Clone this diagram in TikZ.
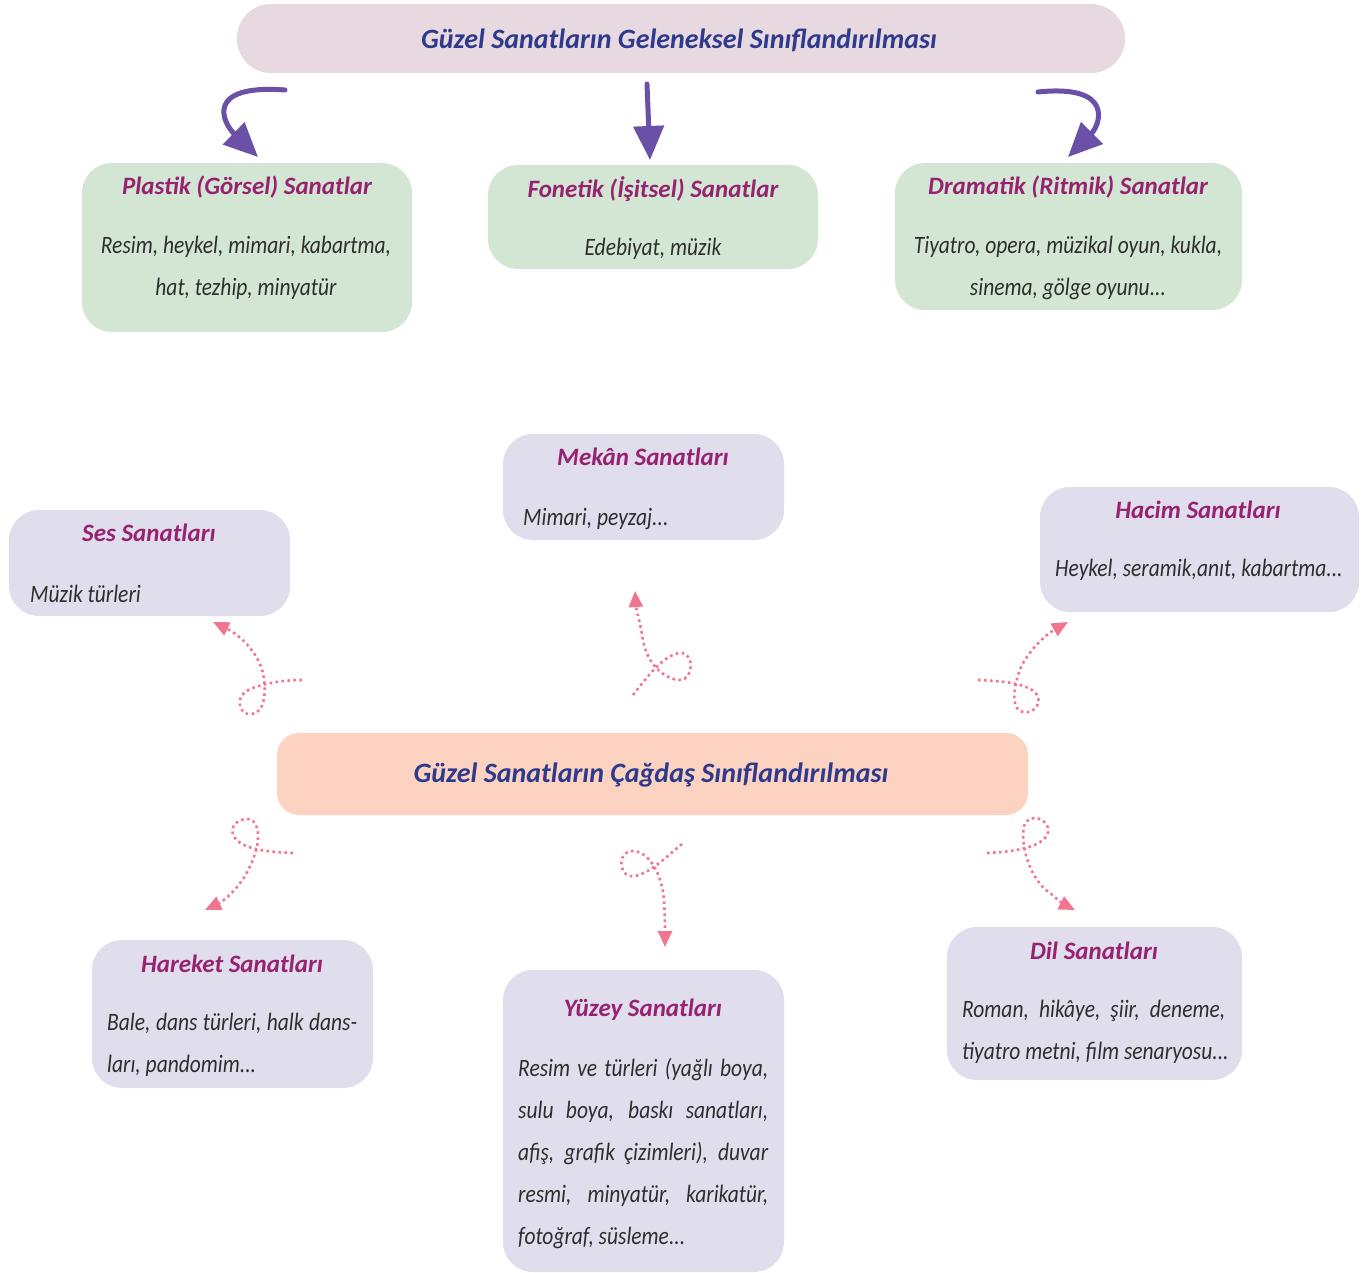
\documentclass[tikz,border=0pt]{standalone}
\usepackage{fontspec}
\usetikzlibrary{arrows.meta}
\newfontfamily\headfont{Carlito}
\newfontfamily\bodyfont[FakeStretch=0.86]{Carlito}
\definecolor{titlebg}{HTML}{E8D8E0}
\definecolor{orangebg}{HTML}{FCD3C1}
\definecolor{greenbg}{HTML}{D2E6D3}
\definecolor{lilacbg}{HTML}{E0DDED}
\definecolor{navytext}{HTML}{2E3A8C}
\definecolor{magtext}{HTML}{97226F}
\definecolor{graytext}{HTML}{2E2E2E}
\definecolor{violetline}{HTML}{6A50A7}
\definecolor{pinkline}{HTML}{F2758F}
\newcommand{\jline}[2]{\makebox[#1][s]{#2}}
\tikzset{
  box/.style={rounded corners=30pt, inner sep=0pt},
  greenbox/.style={box, fill=greenbg},
  lilacbox/.style={box, fill=lilacbg},
  maintitle/.style={font=\headfont\bfseries\itshape\fontsize{28}{32}\selectfont, text=navytext},
  boxtitle/.style={font=\headfont\bfseries\itshape\fontsize{25}{30}\selectfont, text=magtext},
  bodytext/.style={font=\bodyfont\itshape\fontsize{25}{42}\selectfont, text=graytext, inner sep=0pt},
  bigarrow/.style={violetline, line width=5pt, line cap=round, -{Triangle[length=34pt,width=30pt]}},
  loopy/.style={pinkline, line width=2.6pt, dash pattern=on 2.6pt off 3.4pt, -{Triangle[length=16pt,width=14pt]}}
}
\begin{document}
\begin{tikzpicture}[x=1pt,y=-1pt]
  \useasboundingbox (0,0) rectangle (1363,1273);
  \node[box, rounded corners=34pt, fill=titlebg, minimum width=888pt, minimum height=69pt] (gelenek) at (681,38.5) {};
  \node[maintitle] (gelenektxt) at (679,40) {Güzel Sanatların Geleneksel Sınıflandırılması};

  \node[greenbox, minimum width=330pt, minimum height=169pt] (plastik) at (247,247.5) {};
  \node[boxtitle] (plastiktitle) at (247,187) {Plastik (Görsel) Sanatlar};
  \node[bodytext, align=center] (plastiktxt) at (246,268) {Resim, heykel, mimari, kabartma,\\hat, tezhip, minyatür};

  \node[greenbox, minimum width=330pt, minimum height=104pt] (fonetik) at (653,217) {};
  \node[boxtitle] (fonetiktitle) at (653,189) {Fonetik (İşitsel) Sanatlar};
  \node[bodytext] (fonetiktxt) at (653,249) {Edebiyat, müzik};

  \node[greenbox, minimum width=347pt, minimum height=147pt] (dramatik) at (1068.5,236.5) {};
  \node[boxtitle] (dramatiktitle) at (1068,187) {Dramatik (Ritmik) Sanatlar};
  \node[bodytext, align=center] (dramatiktxt) at (1068,268) {Tiyatro, opera, müzikal oyun, kukla,\\sinema, gölge oyunu...};

  \coordinate (pl-a) at (285,90);
  \coordinate (pl-b) at (258,157);
  \coordinate (fo-a) at (647,84);
  \coordinate (fo-b) at (650,160);
  \coordinate (dr-a) at (1038,92);
  \coordinate (dr-b) at (1068,157);
  \draw[bigarrow] (pl-a) .. controls (205,84) and (222,122) .. (pl-b);
  \draw[bigarrow] (fo-a) -- (fo-b);
  \draw[bigarrow] (dr-a) .. controls (1115,84) and (1100,125) .. (dr-b);

  \node[lilacbox, minimum width=281pt, minimum height=106pt] (mekan) at (643.5,487) {};
  \node[boxtitle] (mekantitle) at (643,457) {Mekân Sanatları};
  \node[bodytext, anchor=west] (mekantxt) at (523,519) {Mimari, peyzaj...};

  \node[lilacbox, minimum width=281pt, minimum height=106pt] (ses) at (149.5,563) {};
  \node[boxtitle] (sestitle) at (149,533) {Ses Sanatları};
  \node[bodytext, anchor=west] (sestxt) at (30,594) {Müzik türleri};

  \node[lilacbox, minimum width=319pt, minimum height=125pt] (hacim) at (1199.5,549.5) {};
  \node[boxtitle] (hacimtitle) at (1198,510) {Hacim Sanatları};
  \node[bodytext, anchor=west] (hacimtxt) at (1055,570) {Heykel, seramik,anıt, kabartma...};

  \node[box, rounded corners=22pt, fill=orangebg, minimum width=751pt, minimum height=82pt] (cagdas) at (652.5,774) {};
  \node[maintitle] (cagdastxt) at (651,775) {Güzel Sanatların Çağdaş Sınıflandırılması};

  \node[lilacbox, minimum width=281pt, minimum height=148pt] (hareket) at (232.5,1014) {};
  \node[boxtitle] (harekettitle) at (232,964) {Hareket Sanatları};
  \node[bodytext, anchor=west, align=left] (hareketxt) at (107,1045) {\jline{250pt}{Bale, dans türleri, halk dans-}\\ları, pandomim...};

  \node[lilacbox, minimum width=281pt, minimum height=302pt] (yuzey) at (643.5,1121) {};
  \node[boxtitle] (yuzeytitle) at (643,1010) {Yüzey Sanatları};
  \node[bodytext, anchor=west, align=left] (yuzeytxt) at (518,1154) {\jline{250pt}{Resim ve türleri (yağlı boya,}\\\jline{250pt}{sulu boya, baskı sanatları,}\\\jline{250pt}{afiş, grafik çizimleri), duvar}\\\jline{250pt}{resmi, minyatür, karikatür,}\\fotoğraf, süsleme...};

  \node[lilacbox, minimum width=295pt, minimum height=153pt] (dil) at (1094.5,1003.5) {};
  \node[boxtitle] (diltitle) at (1094,951) {Dil Sanatları};
  \node[bodytext, anchor=west, align=left] (diltxt) at (962,1032) {\jline{263pt}{Roman, hikâye, şiir, deneme,}\\tiyatro metni, film senaryosu...};

  \coordinate (ses-a) at (302,680);
  \coordinate (ses-b) at (213,622);
  \coordinate (mek-a) at (633,695);
  \coordinate (mek-b) at (635,591);
  \coordinate (hac-a) at (978,680);
  \coordinate (hac-b) at (1068,622);
  \coordinate (har-a) at (293,853);
  \coordinate (har-b) at (205,910);
  \coordinate (yuz-a) at (682,844);
  \coordinate (yuz-b) at (665,947);
  \coordinate (dil-a) at (987,853);
  \coordinate (dil-b) at (1075,910);
  \draw[loopy] (ses-a) .. controls (280,680) and (255,685) .. (245,692) .. controls (235,700) and (240,716) .. (252,714) .. controls (264,712) and (266,696) .. (264,680) .. controls (262,655) and (240,635) .. (ses-b);
  \draw[loopy] (mek-a) .. controls (645,680) and (665,652) .. (682,653) .. controls (694,654) and (694,679) .. (680,680) .. controls (668,680) and (648,668) .. (643,640) .. controls (640,622) and (636,608) .. (mek-b);
  \draw[loopy] (hac-a) .. controls (1000,681) and (1030,683) .. (1037,695) .. controls (1043,706) and (1030,716) .. (1020,711) .. controls (1010,705) and (1015,680) .. (1022,665) .. controls (1030,650) and (1045,635) .. (hac-b);
  \draw[loopy] (har-a) .. controls (270,852) and (240,850) .. (233,835) .. controls (228,822) and (250,812) .. (256,825) .. controls (262,840) and (254,860) .. (245,876) .. controls (235,892) and (222,902) .. (har-b);
  \draw[loopy] (yuz-a) .. controls (665,858) and (645,878) .. (630,876) .. controls (618,874) and (618,850) .. (633,851) .. controls (650,852) and (662,875) .. (664,900) .. controls (665,915) and (665,930) .. (yuz-b);
  \draw[loopy] (dil-a) .. controls (1010,852) and (1045,848) .. (1048,832) .. controls (1050,818) and (1028,812) .. (1024,826) .. controls (1020,845) and (1030,880) .. (1050,893) .. controls (1058,900) and (1065,905) .. (dil-b);
\end{tikzpicture}
\end{document}
